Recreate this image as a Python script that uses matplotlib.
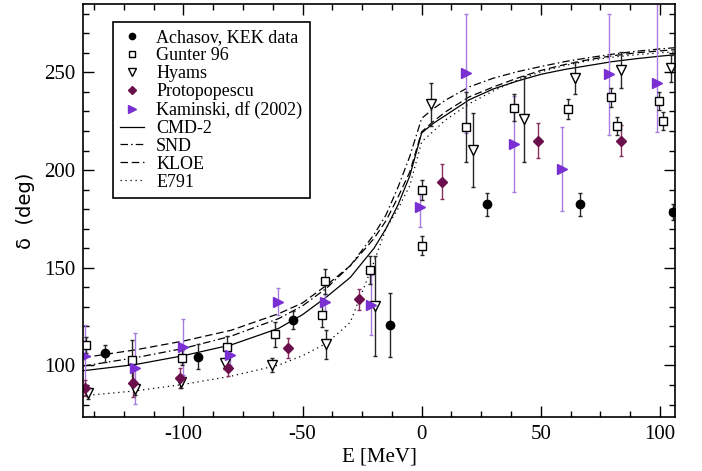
import numpy as np
import matplotlib
matplotlib.use("Agg")
import matplotlib.pyplot as plt

plt.rcParams['font.family'] = ['Liberation Serif', 'DejaVu Serif']
plt.rcParams['axes.unicode_minus'] = False

# Achasov, KEK data
ach_E = [-133.0, -94.0, -54.2, -13.2, 27.3, 66.5, 105.6]
ach_d = [106.2, 104.5, 123.1, 120.7, 182.4, 182.4, 178.7]
ach_err = [4.5, 6.5, 4.7, 16.2, 6.1, 6.1, 4.0]

# Gunter 96
gun_E = [-140.7, -121.5, -100.5, -81.7, -61.7, -40.7, -41.7, -21.6,
         0.1, 0.1, 18.7, 38.8, 61.3, 79.5, 82.1, 99.4, 101.1]
gun_d = [110.4, 102.8, 104.0, 109.3, 115.9, 143.2, 125.8, 148.8,
         189.8, 161.3, 222.2, 231.9, 231.2, 237.2, 222.7, 235.5, 225.2]
gun_err = [4, 10, 4, 6, 6.4, 6.4, 6, 7, 5, 4.7, 17.9, 7, 5, 5, 4.7, 4.7, 4.7]

# Hyams
hy_E = [-140.1, -120.4, -101.0, -82.4, -62.8, -40.0, -19.8,
        4.0, 21.5, 43.1, 64.4, 83.6, 104.6]
hy_d = [85.7, 87.9, 91.7, 101.0, 100.2, 110.8, 130.4,
        233.6, 210.2, 226.1, 247.2, 251.2, 252.0]
hy_err = [3, 3, 3, 3, 3.6, 7.3, 25.6, 11.1, 18.8, 21.9, 8.1, 9.1, 6.8]

# Protopopescu
pro_E = [-141.4, -121.3, -101.3, -81.3, -56.3, -26.1, 8.7, 48.7, 83.6]
pro_d = [88.3, 90.8, 93.7, 98.8, 108.7, 133.8, 194.0, 215.0, 215.0]
pro_err = [4, 7, 5, 4, 5.1, 5.5, 9, 9, 8]

# Kaminski, df (2002)
kam_E = [-141.1, -120.4, -100.1, -80.6, -60.3, -40.7, -21.2,
         -0.9, 18.7, 38.8, 58.8, 78.7, 98.6]
kam_d = [104.8, 98.5, 109.6, 105.3, 132.6, 132.3, 130.9,
         180.9, 249.5, 213.2, 200.4, 249.1, 244.4]
kam_lo = [16, 18.3, 14.3, 5, 6.8, 4.5, 15.4, 10, 30.5, 24.5, 21.6, 31, 25]
kam_hi = [16, 18.3, 14.3, 5, 6.8, 4.5, 15.4, 10, 30.5, 24.5, 21.6, 31, 45]

# model curves
cmd_E = [-142, -120, -100, -80, -60, -50, -40, -30, -20, -15, -10, -5, 0,
         5, 10, 20, 30, 40, 50, 60, 70, 80, 90, 100, 106]
cmd_d = [97.3, 100.5, 105.0, 110.5, 119.0, 126.0, 135.0, 145.0, 160.0, 170.0,
         182.0, 197.0, 219.0, 224.0, 228.0, 236.0, 241.5, 245.5, 249.0, 251.5,
         253.5, 255.5, 257.0, 258.3, 259.0]
snd_d = [99.7, 104.0, 108.7, 115.0, 124.0, 130.5, 139.5, 151.0, 167.0, 177.0,
         191.0, 207.0, 226.5, 231.5, 235.8, 242.6, 247.0, 250.3, 253.0, 255.5,
         257.5, 259.3, 260.8, 262.0, 262.6]
kloe_d = [104.0, 108.0, 112.5, 118.0, 126.5, 132.0, 141.0, 151.0, 165.0, 174.0,
          186.0, 199.0, 219.6, 225.0, 229.8, 237.5, 242.5, 247.0, 251.0, 254.0,
          256.5, 258.5, 260.0, 261.0, 261.6]
e791_d = [84.5, 87.0, 90.3, 94.5, 100.2, 105.0, 111.3, 122.0, 153.0, 170.0,
          180.0, 192.0, 214.5, 220.0, 225.6, 234.0, 240.5, 246.0, 250.3, 253.5,
          256.0, 257.8, 259.0, 260.0, 260.5]

purple = '#7a2fd2'
purple_bar = '#a77be0'
maroon = '#6b0f4d'
maroon_bar = '#85305f'

fig = plt.figure(figsize=(7.02, 4.71), dpi=100)
ax = fig.add_axes([0.1187, 0.1146, 0.8428, 0.8769])

ax.plot(cmd_E, cmd_d, color='black', lw=0.9, label='CMD-2')
ax.plot(cmd_E, snd_d, color='black', lw=0.9, linestyle=(0, (6, 2.5, 1.2, 2.5)), label='SND')
ax.plot(cmd_E, kloe_d, color='black', lw=0.9, linestyle=(0, (6, 3)), label='KLOE')
ax.plot(cmd_E, e791_d, color='black', lw=0.9, linestyle=(0, (1, 3)), label='E791')

eb = dict(linestyle='none', elinewidth=1.0, capsize=1.5, capthick=1.0)
ax.errorbar(kam_E, kam_d, yerr=[kam_lo, kam_hi], fmt='none', ecolor=purple_bar, **eb)
ax.errorbar(pro_E, pro_d, yerr=pro_err, fmt='none', ecolor=maroon_bar, **eb)
ax.errorbar(ach_E, ach_d, yerr=ach_err, fmt='none', ecolor='0.15', **eb)
ax.errorbar(gun_E, gun_d, yerr=gun_err, fmt='none', ecolor='0.15', **eb)
ax.errorbar(hy_E, hy_d, yerr=hy_err, fmt='none', ecolor='0.15', **eb)

h_ach, = ax.plot(ach_E, ach_d, 'o', color='black', ms=6, label='Achasov, KEK data')
h_gun, = ax.plot(gun_E, gun_d, 's', mfc='white', mec='black', mew=1.0, ms=6, label='Gunter 96')
h_hy, = ax.plot(hy_E, hy_d, 'v', mfc='white', mec='black', mew=1.0, ms=7, label='Hyams')
h_pro, = ax.plot(pro_E, pro_d, 'D', color=maroon, ms=5, label='Protopopescu')
h_kam, = ax.plot(kam_E, kam_d, '>', color=purple, ms=7, label='Kaminski, df (2002)')

ax.set_xlim(-142, 106.3)
ax.set_ylim(73.6, 285)
ax.set_xticks([-100, -50, 0, 50, 100])
ax.set_xticks(np.arange(-137.5, 106, 12.5), minor=True)
ax.set_yticks([100, 150, 200, 250])
ax.set_yticks(np.arange(80, 285, 10), minor=True)
ax.tick_params(which='both', direction='in', top=True, right=True, labelsize=15)
ax.tick_params(which='major', length=8, width=1.0, pad=6)
ax.tick_params(which='minor', length=4, width=1.0)
for s in ax.spines.values():
    s.set_linewidth(1.2)

ax.set_xlabel('E [MeV]', fontsize=15, labelpad=2)
ax.set_ylabel('δ  (deg)', fontsize=14, family='DejaVu Sans', labelpad=6)

handles = [h_ach, h_gun, h_hy, h_pro, h_kam] + ax.lines[:4]
leg = ax.legend(handles=handles, loc='upper left', bbox_to_anchor=(0.05, 0.956),
                borderaxespad=0, fontsize=13, frameon=True, fancybox=False,
                edgecolor='black', framealpha=1, labelspacing=0.05,
                handlelength=1.3, handletextpad=0.7, borderpad=0.4,
                markerscale=0.75)
leg.get_frame().set_linewidth(1.2)

fig.savefig('out.png', dpi=100)
